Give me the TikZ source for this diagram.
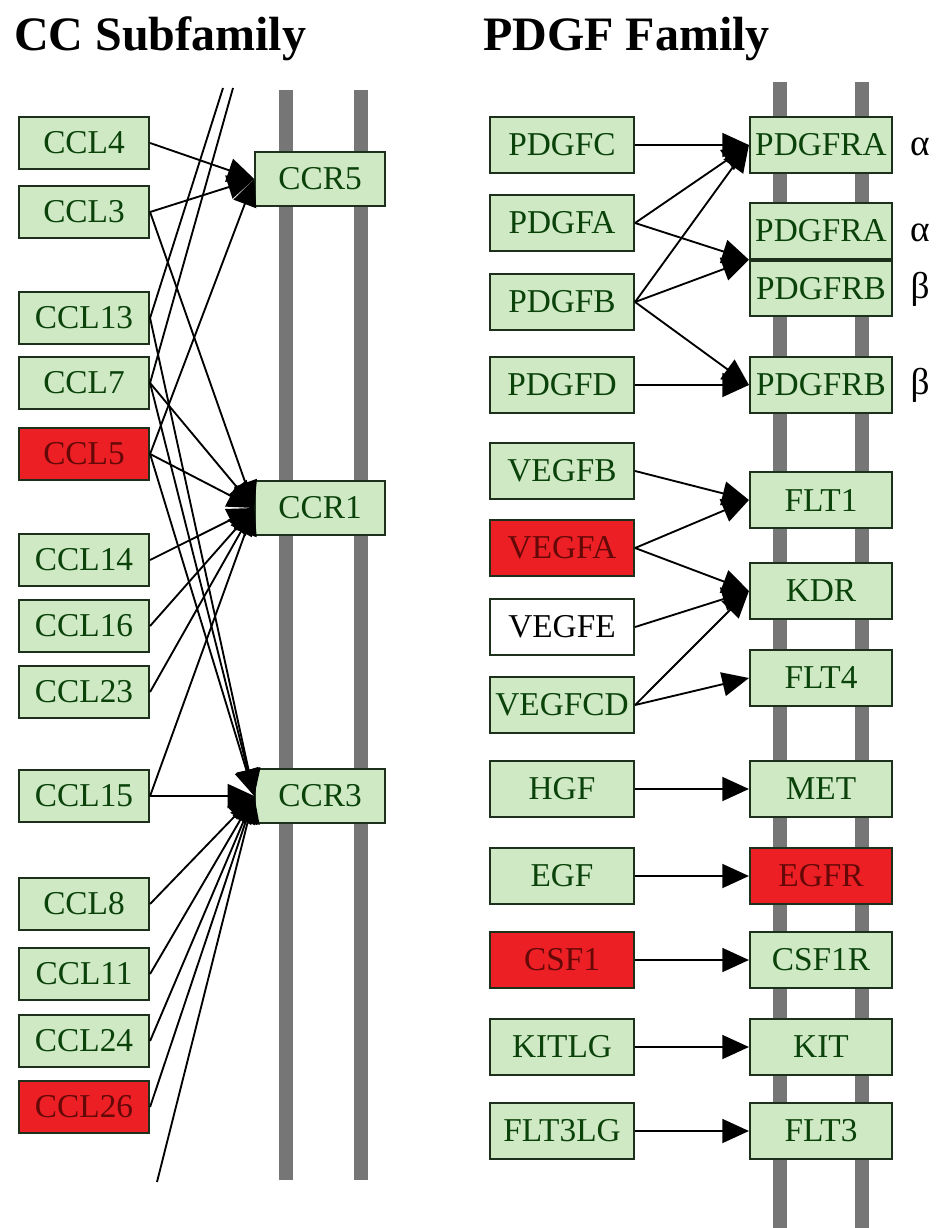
\documentclass[tikz,border=0pt]{standalone}
\usepackage{fontspec}
\setmainfont{Liberation Serif}
\usepackage{tikz}
\usetikzlibrary{arrows.meta, positioning}
\definecolor{GenVerde} {RGB}{206,233,196}
\definecolor{GenBorde} {RGB}{28, 48, 28}
\definecolor{GenTexto} {RGB}{10, 66, 10}
\definecolor{GenRojo}  {RGB}{236,32, 36}
\definecolor{RojoTexto}{RGB}{100,8,  8}
\definecolor{Membrana} {RGB}{118,118,118}

\begin{document}
\begin{tikzpicture}[x=0.75pt,y=-0.75pt,
      gen/.style ={draw=GenBorde,line width=1.6pt,fill=GenVerde,text=GenTexto,
                   inner sep=0pt,font=\fontsize{25}{25}\selectfont},
      lig/.style ={gen,minimum width=97.5pt,minimum height=39pt},
      rec/.style ={gen,minimum width=97pt,minimum height=40pt},
      ligp/.style={gen,minimum width=108pt,minimum height=42.5pt},
      recp/.style={gen,minimum width=106.5pt,minimum height=41.5pt},
      alto/.style={fill=GenRojo,text=RojoTexto},
      nulo/.style={fill=white,text=black},
      mem/.style ={Membrana,line width=10pt},
      ln/.style  ={line width=1.4pt},
      fl/.style  ={-{Triangle[length=20pt,width=18pt]},line width=1.4pt},
      tit/.style ={font=\fontsize{36}{36}\selectfont\bfseries,anchor=base west,inner sep=0pt},
      sub/.style ={font=\fontsize{28}{28}\selectfont,inner sep=0pt}]
      \useasboundingbox (0,0) rectangle (945,1228);
      % titles
      \node[tit] (titcc)   at (14,50)  {CC Subfamily};
      \node[tit] (titpdgf) at (483,50) {PDGF Family};
      % membranes
      \draw[mem] (286,90) -- (286,1180);
      \draw[mem] (361,90) -- (361,1180);
      \draw[mem] (780,82) -- (780,1228);
      \draw[mem] (862,82) -- (862,1228);
      % CC subfamily
      \node[lig]      (ccl4)  at (84,143)  {CCL4};
      \node[lig]      (ccl3)  at (84,212)  {CCL3};
      \node[lig]      (ccl13) at (84,318)  {CCL13};
      \node[lig]      (ccl7)  at (84,383)  {CCL7};
      \node[lig,alto] (ccl5)  at (84,454)  {CCL5};
      \node[lig]      (ccl14) at (84,560)  {CCL14};
      \node[lig]      (ccl16) at (84,626)  {CCL16};
      \node[lig]      (ccl23) at (84,692)  {CCL23};
      \node[lig]      (ccl15) at (84,796)  {CCL15};
      \node[lig]      (ccl8)  at (84,904)  {CCL8};
      \node[lig]      (ccl11) at (84,974)  {CCL11};
      \node[lig]      (ccl24) at (84,1041) {CCL24};
      \node[lig,alto] (ccl26) at (84,1107) {CCL26};
      \node[rec] (ccr5) at (320,179) {CCR5};
      \node[rec] (ccr1) at (320,508) {CCR1};
      \node[rec] (ccr3) at (320,796) {CCR3};
      \coordinate (arribaA) at (223,88);
      \coordinate (arribaB) at (233,88);
      \coordinate (abajo)   at (157,1182);
      \draw[ln] (ccl13.east) -- (arribaA);
      \draw[ln] (ccl7.east)  -- (arribaB);
      \foreach \a/\b in {ccl4/ccr5,ccl3/ccr5,ccl5/ccr5,
                         ccl3/ccr1,ccl7/ccr1,ccl5/ccr1,ccl14/ccr1,ccl16/ccr1,ccl23/ccr1,ccl15/ccr1,
                         ccl13/ccr3,ccl7/ccr3,ccl5/ccr3,ccl15/ccr3,ccl8/ccr3,ccl11/ccr3,ccl24/ccr3,ccl26/ccr3}
        \draw[fl] (\a.east) -- (\b.west);
      \draw[fl] (abajo) -- (ccr3.west);
      % PDGF family
      \node[ligp]      (pdgfc)  at (562,145)  {PDGFC};
      \node[ligp]      (pdgfa)  at (562,223)  {PDGFA};
      \node[ligp]      (pdgfb)  at (562,302)  {PDGFB};
      \node[ligp]      (pdgfd)  at (562,385)  {PDGFD};
      \node[ligp]      (vegfb)  at (562,471)  {VEGFB};
      \node[ligp,alto] (vegfa)  at (562,548)  {VEGFA};
      \node[ligp,nulo] (vegfe)  at (562,627)  {VEGFE};
      \node[ligp]      (vegfcd) at (562,705)  {VEGFCD};
      \node[ligp]      (hgf)    at (562,789)  {HGF};
      \node[ligp]      (egf)    at (562,876)  {EGF};
      \node[ligp,alto] (csf1)   at (562,960)  {CSF1};
      \node[ligp]      (kitlg)  at (562,1047) {KITLG};
      \node[ligp]      (flt3lg) at (562,1131) {FLT3LG};
      \node[recp]      (pdgfraA) at (821,145) {PDGFRA};
      \node[recp]      (pdgfraB) at (821,231) {PDGFRA};
      \node[recp,below=0pt of pdgfraB] (pdgfrbA) {PDGFRB};
      \node[recp]      (pdgfrbB) at (821,385) {PDGFRB};
      \node[recp]      (flt1)   at (821,500)  {FLT1};
      \node[recp]      (kdr)    at (821,591)  {KDR};
      \node[recp]      (flt4)   at (821,678)  {FLT4};
      \node[recp]      (met)    at (821,789)  {MET};
      \node[recp,alto] (egfr)   at (821,876)  {EGFR};
      \node[recp]      (csf1r)  at (821,960)  {CSF1R};
      \node[recp]      (kit)    at (821,1047) {KIT};
      \node[recp]      (flt3)   at (821,1131) {FLT3};
      \node[sub] (alfaA) at (920,147) {α};
      \node[sub] (alfaB) at (920,233) {α};
      \node[sub] (betaA) at (920,289) {β};
      \node[sub] (betaB) at (920,385) {β};
      \foreach \a/\b in {pdgfc/pdgfraA,pdgfa/pdgfraA,pdgfb/pdgfraA,pdgfb/pdgfrbB,pdgfd/pdgfrbB,
                         vegfb/flt1,vegfa/flt1,vegfa/kdr,vegfe/kdr,vegfcd/kdr,vegfcd/flt4,
                         hgf/met,egf/egfr,csf1/csf1r,kitlg/kit,flt3lg/flt3}
        \draw[fl] (\a.east) -- (\b.west);
      \draw[fl] (pdgfa.east) -- (pdgfraB.south west);
      \draw[fl] (pdgfb.east) -- (pdgfraB.south west);
    \end{tikzpicture}
\end{document}
